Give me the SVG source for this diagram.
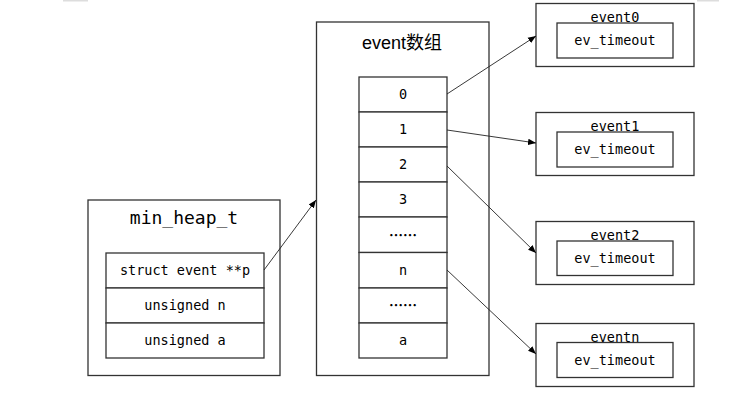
<svg xmlns="http://www.w3.org/2000/svg" width="739" height="408" viewBox="0 0 739 408">
<style>
.box{fill:#fff;stroke:#333;stroke-width:1.3}
.cell{fill:#fff;stroke:#333;stroke-width:1.3}
.mono{font-family:"DejaVu Sans Mono","Liberation Mono",monospace;font-size:13.5px;fill:#000;text-anchor:middle}
.dots{font-family:"Noto Sans CJK SC",sans-serif;font-size:14px;font-weight:bold;fill:#000;text-anchor:middle}
.title{font-family:"DejaVu Sans Mono","Liberation Mono",monospace;font-size:18px;fill:#000;text-anchor:middle}
.cjk{font-family:"Liberation Sans","Noto Sans CJK SC",sans-serif;font-size:18px;fill:#000;text-anchor:middle}
.conn{stroke:#222;stroke-width:0.9;fill:none;marker-end:url(#arr)}
</style>
<defs>
<marker id="arr" viewBox="0 0 10 10" refX="10" refY="5" markerWidth="8" markerHeight="8" markerUnits="userSpaceOnUse" orient="auto">
<path d="M0,1 L10,5 L0,9 z" fill="#000"/>
</marker>
</defs>
<rect x="0" y="0" width="739" height="408" fill="#fff"/>
<rect x="63" y="0" width="25" height="1.5" fill="#ddd"/>
<rect x="697" y="0" width="22" height="1.5" fill="#ddd"/>

<g id="min_heap_t">
<rect class="box" x="88" y="200" width="192" height="175.5"/>
<text class="title" x="184" y="224">min_heap_t</text>
<rect class="cell" x="106" y="253" width="158" height="35"/>
<text class="mono" x="185" y="275">struct event **p</text>
<rect class="cell" x="106" y="288" width="158" height="35"/>
<text class="mono" x="185" y="310">unsigned n</text>
<rect class="cell" x="106" y="323" width="158" height="35"/>
<text class="mono" x="185" y="345">unsigned a</text>
</g>

<g id="event_array">
<rect class="box" x="316.5" y="22" width="172.5" height="353.5"/>
<text class="cjk" x="402" y="49">event数组</text>
<rect class="cell" x="359" y="77" width="88" height="35"/>
<text class="mono" x="403" y="99">0</text>
<rect class="cell" x="359" y="112" width="88" height="35"/>
<text class="mono" x="403" y="134">1</text>
<rect class="cell" x="359" y="147" width="88" height="35"/>
<text class="mono" x="403" y="169">2</text>
<rect class="cell" x="359" y="182" width="88" height="35"/>
<text class="mono" x="403" y="204">3</text>
<rect class="cell" x="359" y="217" width="88" height="35.5"/>
<text class="dots" x="403" y="240">……</text>
<rect class="cell" x="359" y="252.5" width="88" height="35.5"/>
<text class="mono" x="403" y="275">n</text>
<rect class="cell" x="359" y="288" width="88" height="35"/>
<text class="dots" x="403" y="310">……</text>
<rect class="cell" x="359" y="323" width="88" height="35"/>
<text class="mono" x="403" y="345">a</text>
</g>

<g id="event0">
<rect class="box" x="536" y="3.5" width="158" height="63"/>
<text class="mono" x="615" y="22">event0</text>
<rect class="cell" x="557" y="23" width="116" height="35"/>
<text class="mono" x="615" y="45">ev_timeout</text>
</g>
<g id="event1">
<rect class="box" x="536" y="112.5" width="158" height="63"/>
<text class="mono" x="615" y="131">event1</text>
<rect class="cell" x="557" y="132" width="116" height="35"/>
<text class="mono" x="615" y="154">ev_timeout</text>
</g>
<g id="event2">
<rect class="box" x="536" y="221.5" width="158" height="63"/>
<text class="mono" x="615" y="240">event2</text>
<rect class="cell" x="557" y="241" width="116" height="34.5"/>
<text class="mono" x="615" y="263">ev_timeout</text>
</g>
<g id="eventn">
<rect class="box" x="536" y="323.5" width="158" height="63"/>
<text class="mono" x="615" y="342">eventn</text>
<rect class="cell" x="557" y="342.5" width="116" height="35"/>
<text class="mono" x="615" y="365">ev_timeout</text>
</g>

<g id="connectors">
<line class="conn" x1="264" y1="270" x2="316" y2="200"/>
<line class="conn" x1="447" y1="94" x2="536" y2="36"/>
<line class="conn" x1="447" y1="130" x2="536" y2="143"/>
<line class="conn" x1="447" y1="166" x2="536" y2="253"/>
<line class="conn" x1="447" y1="270" x2="536" y2="354"/>
</g>
</svg>
